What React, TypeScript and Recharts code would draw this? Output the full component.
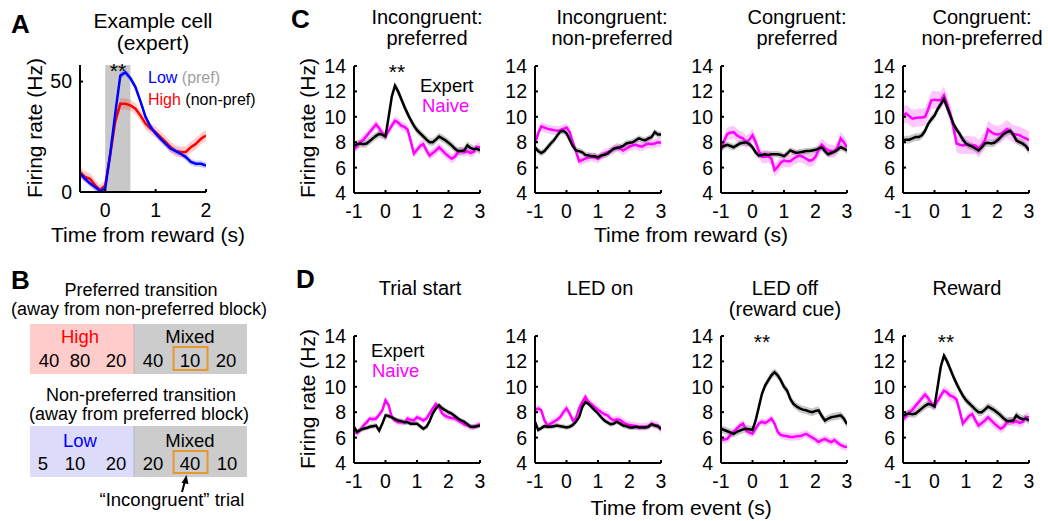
import React from "react";
import { ComposedChart, Line, Area, XAxis, YAxis, ReferenceArea } from "recharts";

const FONT = "'Liberation Sans', Arial, Helvetica, sans-serif";

// ---------- Panel A (example cell) ----------
const timeA = [-0.5, -0.4, -0.3, -0.2, -0.1, 0, 0.1, 0.2, 0.3, 0.4, 0.5, 0.6, 0.7, 0.8, 0.9, 1.0, 1.1, 1.2, 1.3, 1.4, 1.5, 1.6, 1.7, 1.8, 1.9, 2.0];
const aLowPref = [8.3, 6.0, 3.8, 2.3, 0.5, 1.5, 17.3, 35.7, 52.7, 54.2, 51.5, 47.5, 41.0, 34.0, 29.5, 26.5, 24.1, 21.8, 19.6, 18.5, 17.3, 15.8, 13.6, 12.8, 12.8, 12.0];
const aHighNonPref = [9.0, 6.8, 6.0, 3.0, 0.8, 3.0, 17.0, 32.0, 39.9, 39.9, 39.2, 37.7, 34.6, 30.9, 28.6, 27.1, 24.8, 22.6, 20.3, 18.5, 18.1, 18.1, 20.3, 21.8, 24.1, 25.6];
const aSem = [1.5, 2.5];
const aXTicks = [0, 1, 2];
const aYTicks = [0, 50];

// ---------- Panels C & D (population) ----------
const timeCD = [-1, -0.9, -0.8, -0.7, -0.6, -0.5, -0.4, -0.3, -0.2, -0.1, 0,
  0.1, 0.2, 0.3, 0.4, 0.5, 0.6, 0.7, 0.8, 0.9, 1.0,
  1.1, 1.2, 1.3, 1.4, 1.5, 1.6, 1.7, 1.8, 1.9, 2.0,
  2.1, 2.2, 2.3, 2.4, 2.5, 2.6, 2.7, 2.8, 2.9, 3.0];
const cdXTicks = [-1, 0, 1, 2, 3];
const cdYTicks = [4, 6, 8, 10, 12, 14];

const incPrefExpert = [7.7, 7.85, 7.9, 7.85, 7.9, 8.1, 8.3, 8.5, 8.65, 8.6, 8.45,
  10.0, 11.6, 12.45, 12.0, 11.4, 10.8, 10.25, 9.75, 9.3, 8.95,
  8.7, 8.45, 8.2, 8.0, 8.0, 8.2, 8.45, 8.3, 8.15, 7.95,
  7.75, 7.5, 7.3, 7.3, 7.35, 7.75, 7.55, 7.45, 7.5, 7.35];
const incPrefNaive = [7.4, 7.7, 8.0, 8.2, 8.5, 8.8, 9.1, 9.4, 9.1, 8.7, 8.45,
  8.9, 9.3, 9.7, 9.55, 9.3, 9.2, 9.0, 8.1, 7.1, 7.4,
  7.7, 7.85, 7.35, 6.95, 7.15, 7.35, 7.6, 7.35, 7.1, 6.9,
  6.7, 6.85, 7.2, 7.3, 7.2, 7.3, 7.15, 7.25, 7.6, 7.6];

const incNonPrefExpert = [7.6, 7.3, 7.15, 7.3, 7.6, 7.9, 8.15, 8.5, 8.85, 8.9, 8.7,
  8.2, 7.7, 7.35, 7.3, 7.2, 7.0, 6.95, 6.9, 6.9, 6.8,
  6.95, 7.0, 7.1, 7.3, 7.5, 7.55, 7.6, 7.7, 7.9, 7.95,
  8.0, 8.15, 8.3, 8.2, 8.15, 8.3, 8.4, 8.8, 8.6, 8.6];
const incNonPrefNaive = [7.9, 8.7, 9.25, 9.15, 9.05, 9.0, 8.95, 8.9, 8.95, 9.05, 9.15,
  8.8, 8.0, 7.3, 6.5, 6.6, 6.7, 6.8, 6.85, 6.8, 6.7,
  6.9, 7.1, 7.2, 7.3, 7.45, 7.6, 7.5, 7.35, 7.5, 7.65,
  7.75, 7.8, 7.7, 7.65, 7.8, 7.9, 7.85, 7.9, 8.0, 7.95];

const conPrefExpert = [7.6, 7.7, 7.8, 7.7, 7.6, 7.75, 7.9, 7.95, 8.0, 7.85, 7.6,
  7.2, 6.95, 7.0, 7.05, 7.0, 7.05, 7.05, 7.05, 7.0, 6.9,
  7.1, 7.35, 7.25, 7.15, 7.2, 7.25, 7.3, 7.3, 7.35, 7.4,
  7.5, 7.6, 7.3, 7.05, 7.15, 7.25, 7.4, 7.6, 7.5, 7.35];
const conPrefNaive = [7.4, 8.1, 8.65, 8.75, 8.8, 8.55, 8.4, 8.3, 8.0, 8.2, 8.55,
  8.0, 7.3, 6.85, 6.85, 6.9, 6.7, 5.8, 6.05, 6.4, 6.55,
  6.5, 6.5, 6.7, 6.85, 6.95, 6.85, 6.7, 6.55, 6.6, 6.85,
  7.4, 7.8, 7.55, 7.35, 7.3, 7.25, 7.6, 8.3, 8.0, 7.6];

const conNonPrefExpert = [8.15, 8.2, 8.2, 8.3, 8.4, 8.4, 8.55, 8.9, 9.45, 9.8, 10.1,
  10.6, 11.0, 11.4, 10.75, 10.1, 9.45, 9.0, 8.65, 8.2, 7.9,
  7.75, 7.65, 7.5, 7.35, 7.6, 7.9, 7.95, 7.9, 7.95, 8.15,
  8.4, 8.65, 8.8, 8.9, 8.6, 8.15, 8.0, 7.9, 7.7, 7.35];
const conNonPrefNaive = [10.1, 10.25, 10.05, 9.85, 9.9, 9.95, 9.95, 10.0, 10.6, 11.3, 11.35,
  11.3, 11.3, 11.7, 11.0, 10.25, 9.2, 7.9, 7.8, 7.75, 7.8,
  7.8, 7.75, 7.75, 7.5, 7.8, 8.15, 9.0, 8.8, 8.65, 8.6,
  8.65, 8.85, 9.05, 8.85, 8.65, 8.6, 8.55, 8.4, 8.3, 8.15];

const trialStartExpert = [6.85, 6.45, 6.6, 6.7, 6.75, 6.85, 6.9, 6.95, 6.55, 7.1, 7.75,
  7.7, 7.6, 7.45, 7.35, 7.3, 7.2, 7.2, 7.1, 7.1, 7.1,
  6.9, 6.7, 6.85, 7.3, 7.9, 8.3, 8.55, 8.3, 8.15, 8.0,
  7.9, 7.7, 7.5, 7.35, 7.25, 7.05, 6.85, 6.85, 6.9, 6.95];
const trialStartNaive = [6.45, 6.35, 6.6, 6.95, 7.2, 7.5, 7.45, 7.5, 7.8, 8.15, 8.95,
  8.55, 7.6, 7.35, 7.2, 7.2, 7.2, 7.5, 7.4, 7.35, 7.6,
  7.5, 7.35, 7.5, 7.9, 8.3, 8.65, 8.4, 7.9, 7.7, 7.6,
  7.55, 7.5, 7.35, 7.2, 7.05, 6.95, 6.85, 6.8, 6.95, 7.05];

const ledOnExpert = [7.25, 6.6, 6.75, 6.9, 6.85, 6.85, 6.9, 6.95, 6.9, 6.85, 6.8,
  6.85, 7.0, 7.25, 7.6, 8.4, 8.8, 8.65, 8.4, 8.15, 7.9,
  7.6, 7.35, 7.2, 7.05, 7.1, 7.25, 7.1, 6.95, 6.9, 6.8,
  6.8, 6.85, 6.8, 6.8, 6.8, 6.85, 7.05, 6.95, 6.9, 6.7];
const ledOnNaive = [8.15, 8.3, 8.15, 7.35, 6.95, 7.1, 7.25, 7.4, 7.6, 8.0, 8.3,
  7.9, 7.35, 7.5, 8.3, 8.8, 9.2, 8.8, 8.6, 8.4, 8.2,
  8.0, 7.85, 7.75, 7.5, 7.35, 7.45, 7.4, 7.2, 7.05, 7.0,
  6.95, 6.9, 6.85, 6.85, 6.85, 6.9, 7.1, 7.0, 6.95, 6.6];

const ledOffExpert = [6.7, 6.6, 6.5, 6.4, 6.3, 6.45, 6.55, 6.65, 6.7, 6.65, 6.6,
  7.35, 8.4, 9.45, 10.1, 10.5, 10.9, 11.15, 10.9, 10.5, 10.0,
  9.7, 9.05, 8.65, 8.45, 8.3, 8.2, 8.15, 8.05, 8.0, 8.1,
  8.15, 7.7, 7.35, 7.5, 7.6, 7.65, 7.7, 7.75, 7.5, 7.05];
const ledOffNaive = [5.8, 5.85, 5.9, 6.2, 6.45, 6.7, 6.95, 7.1, 6.55, 6.4, 6.3,
  6.7, 7.1, 7.25, 7.15, 7.3, 7.5, 7.1, 6.45, 6.2, 6.15,
  6.1, 6.05, 6.05, 6.1, 6.1, 6.2, 6.3, 6.15, 6.0, 5.85,
  5.65, 5.8, 5.9, 5.75, 5.65, 5.8, 5.6, 5.4, 5.3, 5.25];

const rewardExpert = incPrefExpert;
const rewardNaive = incPrefNaive;

// sem half-widths per panel: [C1, C2, C3, C4, D1, D2, D3, D4]
const semExpert = [0.3, 0.25, 0.25, 0.3, 0.2, 0.2, 0.3, 0.3];
const semNaive = [0.35, 0.35, 0.5, 0.7, 0.25, 0.3, 0.3, 0.35];

const cTitles = [["Incongruent:", "preferred"], ["Incongruent:", "non-preferred"], ["Congruent:", "preferred"], ["Congruent:", "non-preferred"]];
const dTitles = [["Trial start"], ["LED on"], ["LED off", "(reward cue)"], ["Reward"]];

const cExpert = [incPrefExpert, incNonPrefExpert, conPrefExpert, conNonPrefExpert];
const cNaive = [incPrefNaive, incNonPrefNaive, conPrefNaive, conNonPrefNaive];
const dExpert = [trialStartExpert, ledOnExpert, ledOffExpert, rewardExpert];
const dNaive = [trialStartNaive, ledOnNaive, ledOffNaive, rewardNaive];

// layout
const plotLefts = [354, 535, 721, 903];
const cTitleX = [427, 612, 797, 982];
const dTitleX = [420, 600, 785, 967];

function buildRows(time: number[], a: number[], b: number[], sa: number, sb: number) {
  return time.map((t, i) => ({
    t,
    a: a[i],
    b: b[i],
    aBand: [a[i] - sa, a[i] + sa],
    bBand: [b[i] - sb, b[i] + sb],
  }));
}

type PanelProps = {
  left: number; top: number; w: number; h: number;
  rows: any[]; xDomain: [number, number]; xTicks: number[];
  yDomain: [number, number]; yTicks: number[];
  colorA: string; colorB: string; bandA: string; bandB: string;
  shade?: [number, number];
};

function TracePanel(p: PanelProps) {
  const ML = 60, MT = 10, MR = 12, MB = 40;
  const axisStyle = { stroke: "#000", strokeWidth: 2 };
  const tickStyle = { fill: "#000", fontSize: 19.5, fontFamily: FONT };
  return (
    <div style={{ position: "absolute", left: p.left - ML, top: p.top - MT }}>
      <ComposedChart width={ML + p.w + MR} height={MT + p.h + MB} data={p.rows}
        margin={{ top: MT, right: MR, left: 0, bottom: 0 }}>
        {p.shade && (
          <ReferenceArea x1={p.shade[0]} x2={p.shade[1]} y1={p.yDomain[0]} y2={p.yDomain[1]}
            fill="#c8c8c8" fillOpacity={1} stroke="none" ifOverflow="visible" />
        )}
        <XAxis dataKey="t" type="number" domain={p.xDomain} ticks={p.xTicks} allowDataOverflow
          interval={0} height={MB} axisLine={axisStyle} tickLine={axisStyle}
          tickSize={-3} tickMargin={14} tick={tickStyle} />
        <YAxis type="number" domain={p.yDomain} ticks={p.yTicks} allowDataOverflow
          interval={0} width={ML} axisLine={axisStyle} tickLine={axisStyle}
          tickSize={-3} tickMargin={11} tick={tickStyle} />
        <Area dataKey="bBand" stroke="none" fill={p.bandB} fillOpacity={1} isAnimationActive={false} type="linear" />
        <Area dataKey="aBand" stroke="none" fill={p.bandA} fillOpacity={1} isAnimationActive={false} type="linear" />
        <Line dataKey="b" stroke={p.colorB} strokeWidth={2.5} dot={false} isAnimationActive={false} type="linear" />
        <Line dataKey="a" stroke={p.colorA} strokeWidth={2.5} dot={false} isAnimationActive={false} type="linear" />
      </ComposedChart>
    </div>
  );
}

function Txt(props: { x: number; y: number; children: any; size?: number; anchor?: string; fill?: string; weight?: number; rotate?: boolean }) {
  const { x, y, children, size = 21, anchor = "middle", fill = "#000", weight = 400, rotate } = props;
  return (
    <text x={x} y={y} fontSize={size} fontFamily={FONT} textAnchor={anchor as any} fill={fill}
      fontWeight={weight} dominantBaseline="central" transform={rotate ? `rotate(-90 ${x} ${y})` : undefined}>
      {children}
    </text>
  );
}

function Title2(props: { x: number; y: number; lines: string[]; gap: number; size?: number; xs?: number[] }) {
  const { x, y, lines, gap, size = 21, xs } = props;
  return (
    <text x={x} y={y} fontSize={size} fontFamily={FONT} textAnchor="middle" fill="#000" dominantBaseline="central">
      {lines.map((s, i) => (
        <tspan key={i} x={xs ? xs[i] : x} dy={i === 0 ? 0 : gap}>{s}</tspan>
      ))}
    </text>
  );
}

export default function App() {
  const aRows = buildRows(timeA, aLowPref, aHighNonPref, aSem[0], aSem[1]);
  const ORANGE = "#e8962e";
  return (
    <div style={{ position: "absolute", left: 0, top: 0, width: 1048, height: 521, background: "#fff", overflow: "hidden" }}>
      <TracePanel left={80} top={65} w={126} h={127} rows={aRows} xDomain={[-0.5, 2]} xTicks={aXTicks}
        yDomain={[0, 57.5]} yTicks={aYTicks} colorA="#0000ff" colorB="#ff0000"
        bandA="rgba(0,0,255,0.2)" bandB="rgba(255,0,0,0.2)" shade={[0, 0.5]} />
      {plotLefts.map((l, i) => (
        <TracePanel key={"c" + i} left={l} top={66} w={126} h={127}
          rows={buildRows(timeCD, cExpert[i], cNaive[i], semExpert[i], semNaive[i])}
          xDomain={[-1, 3]} xTicks={cdXTicks} yDomain={[4, 14]} yTicks={cdYTicks}
          colorA="#000000" colorB="#ff00ff" bandA="rgba(0,0,0,0.22)" bandB="rgba(255,0,255,0.22)" />
      ))}
      {plotLefts.map((l, i) => (
        <TracePanel key={"d" + i} left={l} top={336} w={126} h={127}
          rows={buildRows(timeCD, dExpert[i], dNaive[i], semExpert[4 + i], semNaive[4 + i])}
          xDomain={[-1, 3]} xTicks={cdXTicks} yDomain={[4, 14]} yTicks={cdYTicks}
          colorA="#000000" colorB="#ff00ff" bandA="rgba(0,0,0,0.22)" bandB="rgba(255,0,255,0.22)" />
      ))}
      <svg width={1048} height={521} style={{ position: "absolute", left: 0, top: 0, pointerEvents: "none" }}>
        {/* Panel letters */}
        <Txt x={11} y={24} size={26} weight={700} anchor="start">A</Txt>
        <Txt x={11} y={280} size={26} weight={700} anchor="start">B</Txt>
        <Txt x={291} y={19} size={26} weight={700} anchor="start">C</Txt>
        <Txt x={296} y={279} size={26} weight={700} anchor="start">D</Txt>

        {/* Panel A texts */}
        <Title2 x={153} y={20} lines={["Example cell", "(expert)"]} gap={22} />
        <Txt x={118} y={70}>**</Txt>
        <text x={148} y={77} fontSize={16} fontFamily={FONT} dominantBaseline="central">
          <tspan fill="#0000ff">Low</tspan><tspan fill="#a0a0a0"> (pref)</tspan>
        </text>
        <text x={148} y={98.5} fontSize={16} fontFamily={FONT} dominantBaseline="central">
          <tspan fill="#ff0000">High</tspan><tspan fill="#000"> (non-pref)</tspan>
        </text>
        <Txt x={34} y={128} rotate>Firing rate (Hz)</Txt>
        <Txt x={148} y={234}>Time from reward (s)</Txt>

        {/* Panel B diagram */}
        <Title2 x={140} y={289.5} lines={["Preferred transition", "(away from non-preferred block)"]} gap={19} size={18} xs={[141, 139]} />
        <rect x={30} y={324} width={104} height={50} fill="#ffcccc" />
        <rect x={134} y={324} width={113} height={50} fill="#cccccc" />
        <line x1={134} y1={324} x2={134} y2={374} stroke="#d8a8a8" strokeWidth={1} />
        <Txt x={80} y={336} size={18.5} fill="#ff0000">High</Txt>
        <Txt x={190} y={336} size={18.5}>Mixed</Txt>
        <Txt x={49} y={360} size={18.5}>40</Txt>
        <Txt x={80} y={360} size={18.5}>80</Txt>
        <Txt x={116} y={360} size={18.5}>20</Txt>
        <Txt x={153} y={360} size={18.5}>40</Txt>
        <Txt x={190} y={360} size={18.5}>10</Txt>
        <Txt x={226} y={360} size={18.5}>20</Txt>
        <rect x={173.5} y={347} width={34} height={23} fill="none" stroke={ORANGE} strokeWidth={2} />

        <Title2 x={140} y={395} lines={["Non-preferred transition", "(away from preferred block)"]} gap={19} size={18} xs={[141, 139]} />
        <rect x={30} y={426} width={104} height={51} fill="#dcdcfa" />
        <rect x={134} y={426} width={113} height={51} fill="#cccccc" />
        <line x1={134} y1={426} x2={134} y2={477} stroke="#b0b0d0" strokeWidth={1} />
        <Txt x={80} y={440} size={18.5} fill="#0000ff">Low</Txt>
        <Txt x={190} y={440} size={18.5}>Mixed</Txt>
        <Txt x={43} y={463} size={18.5}>5</Txt>
        <Txt x={75} y={463} size={18.5}>10</Txt>
        <Txt x={116} y={463} size={18.5}>20</Txt>
        <Txt x={153} y={463} size={18.5}>20</Txt>
        <Txt x={190} y={463} size={18.5}>40</Txt>
        <Txt x={227} y={463} size={18.5}>10</Txt>
        <rect x={173.5} y={451} width={34} height={22} fill="none" stroke={ORANGE} strokeWidth={2} />
        <line x1={182} y1={492} x2={185} y2={481} stroke="#000" strokeWidth={2} />
        <polygon points="186.5,475 181.5,483 188.5,484" fill="#000" />
        <Txt x={172} y={499.5} size={18.5}>{"\u201cIncongruent\u201d trial"}</Txt>

        {/* Panel C texts */}
        {cTitles.map((lines, i) => (
          <Title2 key={"ct" + i} x={cTitleX[i]} y={17} lines={lines} gap={21} size={20} />
        ))}
        <Txt x={397} y={71}>**</Txt>
        <text x={420} y={85} fontSize={18.5} fontFamily={FONT} dominantBaseline="central">
          <tspan x={420} dy={0} fill="#000">Expert</tspan>
          <tspan x={422} dy={19.5} fill="#ff00ff">Naive</tspan>
        </text>
        <Txt x={307} y={128} rotate>Firing rate (Hz)</Txt>
        <Txt x={691} y={234}>Time from reward (s)</Txt>

        {/* Panel D texts */}
        {dTitles.map((lines, i) => (
          <Title2 key={"dt" + i} x={dTitleX[i]} y={287.5} lines={lines} gap={21} size={20} />
        ))}
        <Txt x={762} y={341}>**</Txt>
        <Txt x={946} y={341}>**</Txt>
        <text x={371} y={350} fontSize={18.5} fontFamily={FONT} dominantBaseline="central">
          <tspan x={371} dy={0} fill="#000">Expert</tspan>
          <tspan x={372} dy={19.5} fill="#ff00ff">Naive</tspan>
        </text>
        <Txt x={307} y={399} rotate>Firing rate (Hz)</Txt>
        <Txt x={681} y={507}>Time from event (s)</Txt>
      </svg>
    </div>
  );
}
